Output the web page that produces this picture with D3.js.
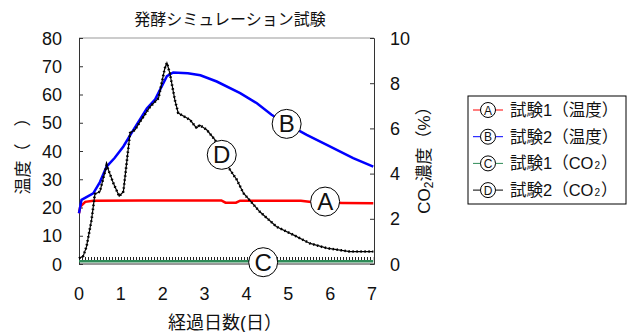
<!DOCTYPE html>
<html>
<head>
<meta charset="utf-8">
<script src="https://cdn.jsdelivr.net/npm/d3@7"></script>
<style>
  body { margin: 0; background: #fff; }
  svg { font-family: "Liberation Sans", "Noto Sans CJK JP", sans-serif; }
</style>
</head>
<body>
<div id="chart"></div>
<script>
// temperature series: [day, degrees]
let tempA = [[0, 18], [0.03, 20.3], [0.15, 22], [0.34, 22.4], [1.5, 22.5], [3.4, 22.5], [3.5, 21.7], [3.75, 21.7], [3.85, 22.4], [5.3, 22.4], [5.6, 21.9], [6.3, 21.6], [7.03, 21.5]]
let tempB = [[0, 18], [0.06, 22.7], [0.34, 25], [0.5, 29], [0.66, 34.5], [0.85, 37.5], [1.06, 41.6], [1.3, 47.5], [1.62, 55], [1.82, 58.3], [2.1, 66.5], [2.25, 67.8], [2.6, 67.5], [2.9, 66.8], [3.29, 64.6], [3.85, 60.5], [4.25, 56.9], [4.6, 52.8], [4.96, 49.6], [5.44, 45.7], [5.92, 42.2], [6.55, 37.5], [7.03, 34.5]]
// CO2 series: [day, %]
let co2C = [[0, 0.12], [7.03, 0.12]]
let co2D = [[0, 0.25], [0.1, 0.35], [0.18, 0.77], [0.3, 1.95], [0.38, 3.1], [0.5, 3.2], [0.66, 4.38], [0.82, 3.58], [0.96, 3.0], [1.06, 3.2], [1.22, 5.8], [1.34, 5.94], [1.46, 6.3], [1.7, 6.96], [1.9, 7.34], [2.05, 8.66], [2.1, 8.9], [2.17, 8.45], [2.29, 7.26], [2.37, 6.68], [2.65, 6.38], [2.81, 6.01], [2.88, 6.15], [3.05, 5.94], [3.25, 5.49], [3.42, 4.8], [3.61, 4.16], [3.77, 3.73], [3.93, 3.13], [4.32, 2.31], [4.72, 1.65], [5.12, 1.29], [5.52, 0.91], [5.92, 0.7], [6.47, 0.55], [7.03, 0.55]]

let xTicks = [0, 1, 2, 3, 4, 5, 6, 7]
let tempTicks = [0, 10, 20, 30, 40, 50, 60, 70, 80]
let co2Ticks = [0, 2, 4, 6, 8, 10]

// annotation circles: letter, axis, day, value
let marks = [['A', 't', 5.88, 22.1], ['B', 't', 4.96, 49.6], ['C', 'c', 4.4, 0.08], ['D', 'c', 3.41, 4.83]]

let legendItems = [
    {key: 'A', color: '#ff0000', label: '試験1（温度）'},
    {key: 'B', color: '#0000ff', label: '試験2（温度）'},
    {key: 'C', color: '#2e8b57', label: '試験1（CO', sub: true},
    {key: 'D', color: '#000000', label: '試験2（CO', sub: true}
]

const svg = d3.select('#chart').append('svg')
    .attr('width', 640)
    .attr('height', 332)

let pLeft = 79, pRight = 374, pTop = 38, pBottom = 264

let x = d3.scaleLinear().domain([0, 7]).range([pLeft, pLeft + 7 * 41.86])
let yT = d3.scaleLinear().domain([0, 80]).range([pBottom, pTop])
let yC = d3.scaleLinear().domain([0, 10]).range([pBottom, pTop])

// frame
svg.append('line').attr('x1', pLeft).attr('x2', pRight).attr('y1', pTop).attr('y2', pTop)
    .attr('stroke', '#999').attr('stroke-width', 1)
svg.append('line').attr('x1', pLeft).attr('x2', pRight).attr('y1', pBottom).attr('y2', pBottom)
    .attr('stroke', '#333').attr('stroke-width', 1)

svg.append('g').attr('transform', 'translate(' + pLeft + ',0)')
    .call(d3.axisRight(yT).tickValues(tempTicks).tickSize(4).tickFormat(''))
svg.append('g').attr('transform', 'translate(' + pRight + ',0)')
    .call(d3.axisLeft(yC).tickValues(co2Ticks).tickSize(4).tickFormat(''))
svg.selectAll('.domain').attr('stroke', '#333')
svg.selectAll('.tick line').attr('stroke', '#333')

// tick labels
svg.selectAll('.tl').data(tempTicks).enter().append('text')
    .attr('x', 62).attr('y', d => yT(d) + 6.5)
    .attr('text-anchor', 'end').attr('font-size', 18).attr('fill', '#111')
    .text(d => d)
svg.selectAll('.tr').data(co2Ticks).enter().append('text')
    .attr('x', 390).attr('y', d => yC(d) + 6.5)
    .attr('text-anchor', 'start').attr('font-size', 18).attr('fill', '#111')
    .text(d => d)
svg.selectAll('.tx').data(xTicks).enter().append('text')
    .attr('x', d => x(d)).attr('y', 300)
    .attr('text-anchor', 'middle').attr('font-size', 18).attr('fill', '#111')
    .text(d => d)

// titles
svg.append('text').attr('x', 230).attr('y', 25).attr('text-anchor', 'middle')
    .attr('font-size', 16).attr('fill', '#111').text('発酵シミュレーション試験')
svg.append('text').attr('x', 225).attr('y', 329).attr('text-anchor', 'middle')
    .attr('font-size', 18).attr('fill', '#111').text('経過日数(日）')
svg.append('text').attr('transform', 'translate(29,152) rotate(-90)').attr('text-anchor', 'middle')
    .attr('font-size', 17).attr('fill', '#111').text('温度（　）')
let rt = svg.append('text').attr('transform', 'translate(430,156) rotate(-90)').attr('text-anchor', 'middle')
    .attr('font-size', 17).attr('fill', '#111')
rt.append('tspan').text('CO')
rt.append('tspan').attr('font-size', 12).attr('dy', 3).text('2')
rt.append('tspan').attr('dy', -3).text('濃度（%）')

let lineT = d3.line().x(d => x(d[0])).y(d => yT(d[1]))
let lineC = d3.line().x(d => x(d[0])).y(d => yC(d[1]))

// C: green with black tick markers above
svg.append('path').attr('d', lineC(co2C)).attr('fill', 'none')
    .attr('stroke', '#2e8b57').attr('stroke-width', 2.5)
svg.append('path').attr('d', lineC(co2C)).attr('fill', 'none')
    .attr('transform', 'translate(0,-2.8)')
    .attr('stroke', '#222').attr('stroke-width', 3.2).attr('stroke-dasharray', '1,2')

svg.append('path').attr('d', lineT(tempA)).attr('fill', 'none')
    .attr('stroke', '#ff0000').attr('stroke-width', 2.5)
svg.append('path').attr('d', lineT(tempB)).attr('fill', 'none')
    .attr('stroke', '#0000ff').attr('stroke-width', 2.5)

// D: thin black line plus dotted markers
svg.append('path').attr('d', lineC(co2D)).attr('fill', 'none')
    .attr('stroke', '#000').attr('stroke-width', 1.2)
svg.append('path').attr('d', lineC(co2D)).attr('fill', 'none')
    .attr('stroke', '#000').attr('stroke-width', 2.6).attr('stroke-dasharray', '1.4,2.6')

// annotation circles
let mg = svg.selectAll('.mk').data(marks).enter().append('g')
    .attr('transform', d => 'translate(' + x(d[2]) + ',' + (d[1] === 't' ? yT(d[3]) : yC(d[3])) + ')')
mg.append('circle').attr('r', 14.5).attr('fill', '#fff').attr('stroke', '#000').attr('stroke-width', 1)
mg.append('text').attr('y', 8.5).attr('text-anchor', 'middle').attr('font-size', 24)
    .attr('fill', '#111').text(d => d[0])

// legend
svg.append('rect').attr('x', 468).attr('y', 96).attr('width', 158).attr('height', 108)
    .attr('fill', '#fff').attr('stroke', '#000').attr('stroke-width', 1)
let lg = svg.selectAll('.lg').data(legendItems).enter().append('g')
    .attr('transform', (d, i) => 'translate(0,' + (110 + i * 26.7) + ')')
lg.append('line').attr('x1', 473).attr('x2', 503).attr('y1', 0).attr('y2', 0)
    .attr('stroke', d => d.color).attr('stroke-width', 1)
lg.append('circle').attr('cx', 488).attr('r', 7.5).attr('fill', '#fff').attr('stroke', '#000')
lg.append('text').attr('x', 488).attr('y', 4.5).attr('text-anchor', 'middle').attr('font-size', 12)
    .attr('fill', '#111').text(d => d.key)
let lt = lg.append('text').attr('x', 510).attr('y', 6).attr('font-size', 16.5).attr('fill', '#111')
lt.append('tspan').text(d => d.label)
lt.filter(d => d.sub).append('tspan').attr('font-size', 10).attr('dx', 1).text('2')
lt.filter(d => d.sub).append('tspan').attr('dx', 1).text('）')
</script>
</body>
</html>
